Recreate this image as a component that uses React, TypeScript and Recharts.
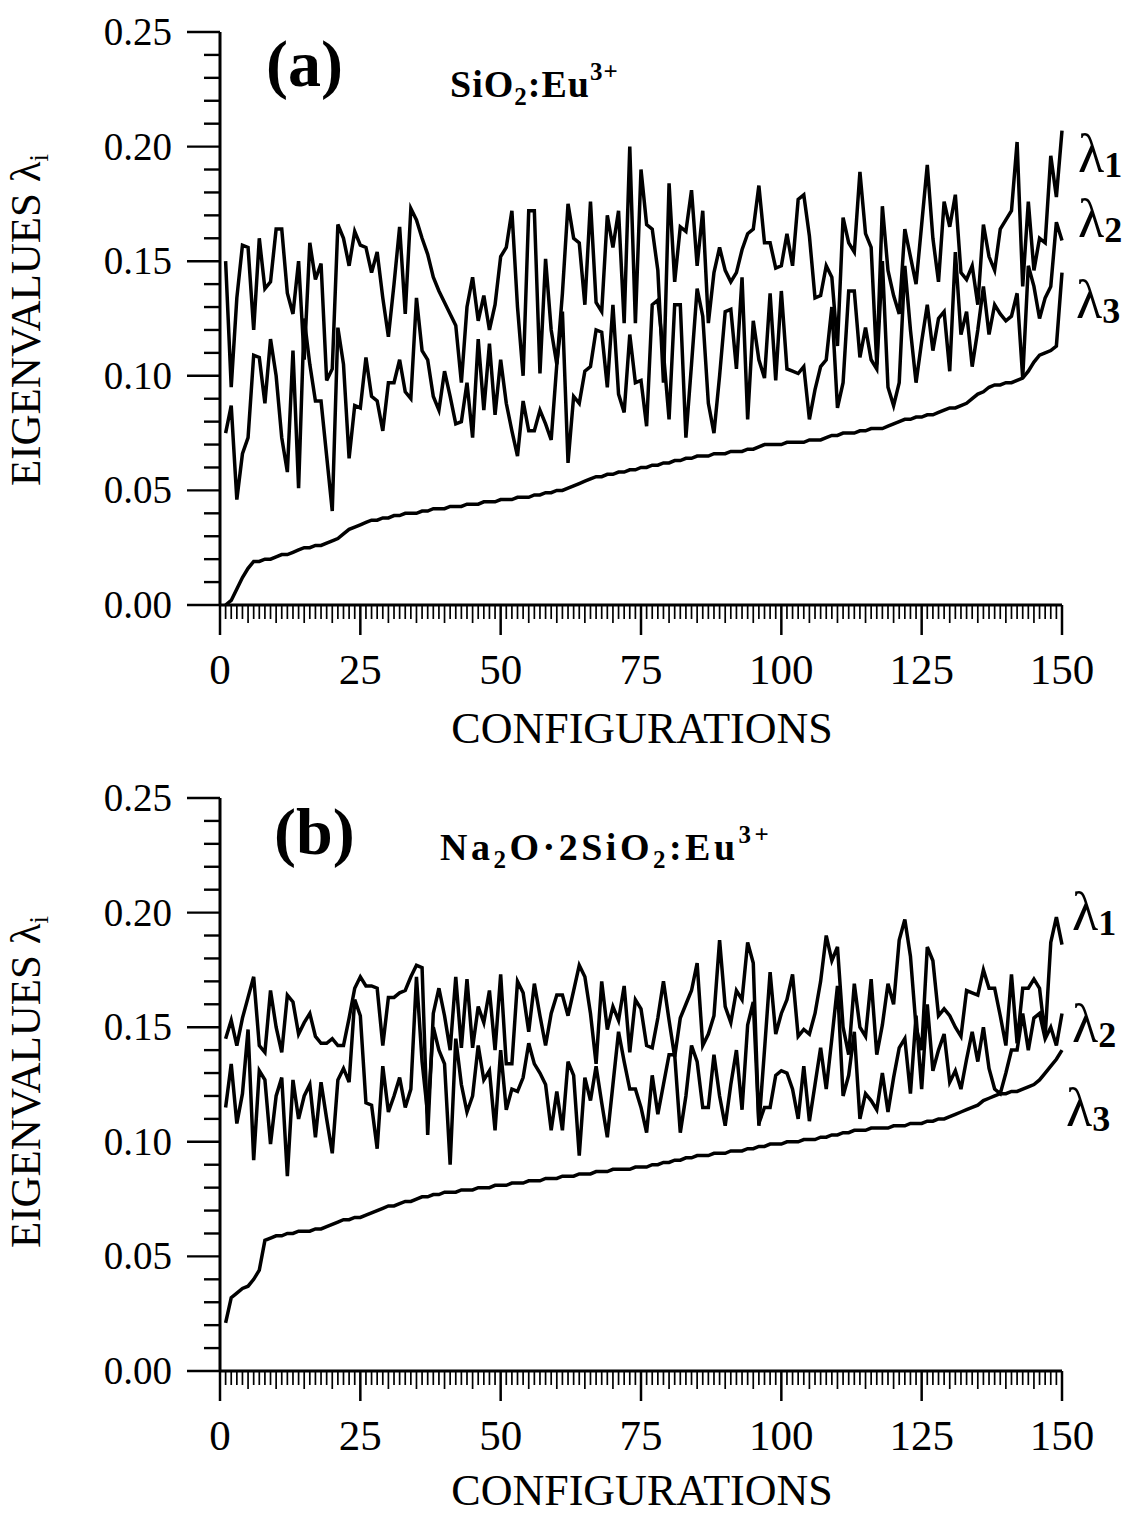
import { LineChart, Line, XAxis, YAxis } from 'recharts';

// configuration index, 1..150
const CONFIGS = Array.from({ length: 150 }, (_, i) => i + 1);

// (a) SiO2:Eu3+
const A_L1 = [
  0.150, 0.095, 0.134, 0.157, 0.156, 0.120, 0.160, 0.138, 0.141, 0.164,
  0.164, 0.136, 0.127, 0.150, 0.107, 0.158, 0.142, 0.149, 0.098, 0.103,
  0.166, 0.160, 0.148, 0.163, 0.157, 0.156, 0.145, 0.154, 0.134, 0.117,
  0.140, 0.165, 0.127, 0.173, 0.168, 0.160, 0.153, 0.143, 0.137, 0.132,
  0.127, 0.122, 0.097, 0.130, 0.143, 0.124, 0.135, 0.120, 0.131, 0.152,
  0.156, 0.172, 0.130, 0.100, 0.172, 0.172, 0.101, 0.151, 0.120, 0.105,
  0.136, 0.175, 0.160, 0.158, 0.131, 0.176, 0.132, 0.128, 0.170, 0.156,
  0.172, 0.123, 0.200, 0.123, 0.190, 0.166, 0.164, 0.146, 0.097, 0.184,
  0.141, 0.165, 0.163, 0.181, 0.148, 0.172, 0.123, 0.145, 0.156, 0.146,
  0.141, 0.145, 0.155, 0.162, 0.164, 0.183, 0.158, 0.158, 0.147, 0.148,
  0.162, 0.148, 0.177, 0.179, 0.161, 0.134, 0.135, 0.148, 0.143, 0.113,
  0.169, 0.158, 0.154, 0.189, 0.162, 0.156, 0.105, 0.174, 0.146, 0.135,
  0.127, 0.164, 0.152, 0.140, 0.166, 0.192, 0.160, 0.141, 0.176, 0.165,
  0.179, 0.145, 0.142, 0.148, 0.131, 0.166, 0.152, 0.146, 0.164, 0.168,
  0.172, 0.202, 0.139, 0.176, 0.146, 0.160, 0.158, 0.196, 0.178, 0.207,
];
const A_L2 = [
  0.075, 0.087, 0.046, 0.066, 0.073, 0.109, 0.108, 0.088, 0.116, 0.100,
  0.073, 0.058, 0.111, 0.051, 0.125, 0.105, 0.089, 0.089, 0.065, 0.041,
  0.121, 0.105, 0.064, 0.087, 0.086, 0.108, 0.091, 0.089, 0.076, 0.097,
  0.097, 0.107, 0.093, 0.090, 0.134, 0.111, 0.107, 0.091, 0.085, 0.102,
  0.091, 0.079, 0.080, 0.097, 0.073, 0.116, 0.085, 0.114, 0.083, 0.107,
  0.088, 0.076, 0.065, 0.089, 0.076, 0.076, 0.085, 0.079, 0.072, 0.105,
  0.128, 0.062, 0.091, 0.088, 0.102, 0.104, 0.120, 0.119, 0.095, 0.131,
  0.092, 0.084, 0.118, 0.097, 0.098, 0.078, 0.131, 0.133, 0.110, 0.081,
  0.131, 0.131, 0.073, 0.105, 0.138, 0.126, 0.088, 0.075, 0.100, 0.128,
  0.129, 0.103, 0.143, 0.081, 0.124, 0.107, 0.099, 0.136, 0.098, 0.137,
  0.103, 0.102, 0.101, 0.104, 0.081, 0.094, 0.104, 0.107, 0.130, 0.086,
  0.097, 0.137, 0.137, 0.108, 0.121, 0.107, 0.103, 0.150, 0.095, 0.087,
  0.097, 0.148, 0.120, 0.097, 0.115, 0.131, 0.111, 0.125, 0.128, 0.102,
  0.154, 0.118, 0.128, 0.104, 0.120, 0.139, 0.118, 0.131, 0.127, 0.124,
  0.126, 0.136, 0.099, 0.148, 0.139, 0.125, 0.134, 0.139, 0.167, 0.159,
];
const A_L3 = [
  0.000, 0.002, 0.007, 0.012, 0.016, 0.019, 0.019, 0.020, 0.020, 0.021,
  0.022, 0.022, 0.023, 0.024, 0.025, 0.025, 0.026, 0.026, 0.027, 0.028,
  0.029, 0.031, 0.033, 0.034, 0.035, 0.036, 0.037, 0.037, 0.038, 0.038,
  0.039, 0.039, 0.040, 0.040, 0.040, 0.041, 0.041, 0.042, 0.042, 0.042,
  0.043, 0.043, 0.043, 0.044, 0.044, 0.044, 0.045, 0.045, 0.045, 0.046,
  0.046, 0.046, 0.047, 0.047, 0.047, 0.048, 0.048, 0.049, 0.049, 0.050,
  0.050, 0.051, 0.052, 0.053, 0.054, 0.055, 0.056, 0.056, 0.057, 0.057,
  0.058, 0.058, 0.059, 0.059, 0.060, 0.060, 0.061, 0.061, 0.062, 0.062,
  0.063, 0.063, 0.064, 0.064, 0.065, 0.065, 0.065, 0.066, 0.066, 0.066,
  0.067, 0.067, 0.067, 0.068, 0.068, 0.069, 0.070, 0.070, 0.070, 0.070,
  0.071, 0.071, 0.071, 0.071, 0.072, 0.072, 0.072, 0.073, 0.074, 0.074,
  0.075, 0.075, 0.075, 0.076, 0.076, 0.077, 0.077, 0.077, 0.078, 0.079,
  0.080, 0.081, 0.081, 0.082, 0.082, 0.083, 0.083, 0.084, 0.085, 0.086,
  0.086, 0.087, 0.088, 0.090, 0.092, 0.093, 0.095, 0.096, 0.096, 0.097,
  0.097, 0.098, 0.099, 0.102, 0.106, 0.109, 0.110, 0.111, 0.113, 0.145,
];

// (b) Na2O.2SiO2:Eu3+
const B_L1 = [
  0.145, 0.153, 0.142, 0.154, 0.163, 0.172, 0.142, 0.139, 0.166, 0.150,
  0.139, 0.164, 0.161, 0.147, 0.152, 0.156, 0.146, 0.143, 0.143, 0.145,
  0.142, 0.142, 0.154, 0.167, 0.172, 0.168, 0.168, 0.167, 0.142, 0.163,
  0.163, 0.165, 0.166, 0.172, 0.177, 0.176, 0.103, 0.156, 0.167, 0.155,
  0.140, 0.172, 0.141, 0.171, 0.141, 0.159, 0.152, 0.166, 0.140, 0.173,
  0.134, 0.134, 0.170, 0.165, 0.148, 0.169, 0.155, 0.142, 0.156, 0.164,
  0.164, 0.155, 0.166, 0.177, 0.172, 0.156, 0.134, 0.170, 0.149, 0.159,
  0.153, 0.168, 0.139, 0.162, 0.158, 0.142, 0.141, 0.154, 0.170, 0.153,
  0.137, 0.154, 0.160, 0.166, 0.178, 0.142, 0.147, 0.155, 0.188, 0.159,
  0.152, 0.166, 0.162, 0.187, 0.178, 0.107, 0.140, 0.174, 0.147, 0.156,
  0.162, 0.173, 0.146, 0.149, 0.147, 0.156, 0.170, 0.190, 0.179, 0.185,
  0.150, 0.138, 0.169, 0.150, 0.146, 0.171, 0.138, 0.151, 0.169, 0.160,
  0.188, 0.197, 0.181, 0.150, 0.140, 0.185, 0.179, 0.155, 0.158, 0.155,
  0.150, 0.146, 0.166, 0.165, 0.164, 0.175, 0.167, 0.167, 0.155, 0.142,
  0.173, 0.143, 0.167, 0.167, 0.171, 0.167, 0.146, 0.187, 0.198, 0.186,
];
const B_L2 = [
  0.115, 0.134, 0.108, 0.121, 0.149, 0.092, 0.131, 0.127, 0.099, 0.120,
  0.128, 0.085, 0.127, 0.110, 0.120, 0.125, 0.102, 0.126, 0.110, 0.095,
  0.127, 0.132, 0.126, 0.162, 0.155, 0.117, 0.116, 0.097, 0.133, 0.113,
  0.120, 0.128, 0.115, 0.123, 0.172, 0.135, 0.112, 0.150, 0.140, 0.134,
  0.090, 0.145, 0.125, 0.113, 0.120, 0.142, 0.127, 0.131, 0.105, 0.140,
  0.114, 0.123, 0.122, 0.128, 0.143, 0.134, 0.130, 0.125, 0.105, 0.122,
  0.105, 0.135, 0.129, 0.094, 0.128, 0.118, 0.133, 0.117, 0.102, 0.125,
  0.148, 0.135, 0.123, 0.123, 0.115, 0.104, 0.129, 0.112, 0.125, 0.138,
  0.138, 0.104, 0.120, 0.142, 0.135, 0.115, 0.115, 0.138, 0.120, 0.107,
  0.125, 0.140, 0.114, 0.151, 0.161, 0.108, 0.115, 0.115, 0.129, 0.131,
  0.130, 0.123, 0.110, 0.133, 0.109, 0.125, 0.141, 0.123, 0.145, 0.168,
  0.120, 0.129, 0.148, 0.110, 0.121, 0.118, 0.114, 0.130, 0.113, 0.128,
  0.141, 0.145, 0.121, 0.155, 0.123, 0.160, 0.131, 0.140, 0.147, 0.126,
  0.131, 0.123, 0.136, 0.148, 0.135, 0.150, 0.132, 0.123, 0.121, 0.130,
  0.140, 0.140, 0.156, 0.140, 0.154, 0.156, 0.145, 0.150, 0.142, 0.156,
];
const B_L3 = [
  0.021, 0.032, 0.034, 0.036, 0.037, 0.040, 0.044, 0.057, 0.058, 0.059,
  0.059, 0.060, 0.060, 0.061, 0.061, 0.061, 0.062, 0.062, 0.063, 0.064,
  0.065, 0.066, 0.066, 0.067, 0.067, 0.068, 0.069, 0.070, 0.071, 0.072,
  0.072, 0.073, 0.074, 0.074, 0.075, 0.076, 0.076, 0.077, 0.077, 0.078,
  0.078, 0.078, 0.079, 0.079, 0.079, 0.080, 0.080, 0.080, 0.081, 0.081,
  0.081, 0.082, 0.082, 0.082, 0.083, 0.083, 0.083, 0.084, 0.084, 0.084,
  0.085, 0.085, 0.085, 0.086, 0.086, 0.086, 0.087, 0.087, 0.087, 0.088,
  0.088, 0.088, 0.088, 0.089, 0.089, 0.089, 0.090, 0.090, 0.091, 0.091,
  0.092, 0.092, 0.093, 0.093, 0.094, 0.094, 0.094, 0.095, 0.095, 0.095,
  0.096, 0.096, 0.096, 0.097, 0.097, 0.098, 0.098, 0.099, 0.099, 0.099,
  0.100, 0.100, 0.100, 0.101, 0.101, 0.101, 0.102, 0.102, 0.103, 0.103,
  0.104, 0.104, 0.105, 0.105, 0.105, 0.106, 0.106, 0.106, 0.106, 0.107,
  0.107, 0.107, 0.108, 0.108, 0.108, 0.109, 0.109, 0.110, 0.110, 0.111,
  0.112, 0.113, 0.114, 0.115, 0.116, 0.118, 0.119, 0.120, 0.121, 0.121,
  0.122, 0.122, 0.123, 0.124, 0.125, 0.127, 0.130, 0.133, 0.136, 0.140,
];

const X_TICKS = Array.from({ length: 151 }, (_, i) => i);
const Y_TICKS = Array.from({ length: 26 }, (_, i) => i / 100);

const FONT = '"Liberation Serif", "Times New Roman", serif';

const rows = (l1: number[], l2: number[], l3: number[]) =>
  CONFIGS.map((c, i) => ({ c, l1: l1[i], l2: l2[i], l3: l3[i] }));

const dataA = rows(A_L1, A_L2, A_L3);
const dataB = rows(B_L1, B_L2, B_L3);

function XTick(props: any) {
  const { x, y, payload } = props;
  const v = payload.value;
  const major = v % 25 === 0;
  const len = major ? 30 : v % 5 === 0 ? 18 : 14;
  return (
    <g>
      <line x1={x} x2={x} y1={y} y2={y + len} stroke="#000" strokeWidth={major ? 2.5 : 1.7} />
      {major && (
        <text x={x} y={y + 79} textAnchor="middle" fontFamily={FONT} fontSize={43} fill="#000">
          {v}
        </text>
      )}
    </g>
  );
}

function YTick(props: any) {
  const { x, y, payload } = props;
  const k = Math.round(payload.value * 100);
  const major = k % 5 === 0;
  return (
    <g>
      <line x1={x - (major ? 33 : 16)} x2={x} y1={y} y2={y} stroke="#000" strokeWidth={2.4} />
      {major && (
        <text x={x - 48} y={y + 13} textAnchor="end" fontFamily={FONT} fontSize={39} fill="#000">
          {(k / 100).toFixed(2)}
        </text>
      )}
    </g>
  );
}

function Panel({ top, data }: { top: number; data: any[] }) {
  return (
    <div style={{ position: 'absolute', left: 0, top }}>
      <LineChart width={1147} height={745} data={data} margin={{ top: 32, right: 85, bottom: 0, left: 0 }}>
        <XAxis
          dataKey="c"
          type="number"
          domain={[0, 150]}
          ticks={X_TICKS}
          interval={0}
          height={140}
          tickSize={0}
          tickMargin={0}
          tickLine={false}
          axisLine={{ stroke: '#000', strokeWidth: 3 }}
          tick={<XTick />}
        />
        <YAxis
          type="number"
          domain={[0, 0.25]}
          ticks={Y_TICKS}
          interval={0}
          width={220}
          tickSize={0}
          tickMargin={0}
          tickLine={false}
          axisLine={{ stroke: '#000', strokeWidth: 3 }}
          tick={<YTick />}
        />
        <Line type="linear" dataKey="l1" stroke="#000" strokeWidth={3.5} dot={false} isAnimationActive={false} />
        <Line type="linear" dataKey="l2" stroke="#000" strokeWidth={3.5} dot={false} isAnimationActive={false} />
        <Line type="linear" dataKey="l3" stroke="#000" strokeWidth={3.5} dot={false} isAnimationActive={false} />
      </LineChart>
    </div>
  );
}

function Lambda({ x, y, n }: { x: number; y: number; n: number }) {
  return (
    <text x={x} y={y} fontFamily={FONT} fontSize={54} fill="#000">
      λ
      <tspan dy={5} fontSize={36} fontWeight="bold">{n}</tspan>
    </text>
  );
}

function Labels() {
  const yLabel = (cy: number) => (
    <text transform={`translate(40, ${cy}) rotate(-90)`} textAnchor="middle" fontFamily={FONT} fontSize={43} fill="#000">
      EIGENVALUES λ<tspan dy={8} fontSize={27}>i</tspan>
    </text>
  );
  return (
    <svg width={1147} height={1515} style={{ position: 'absolute', left: 0, top: 0, pointerEvents: 'none' }}>
      {yLabel(320)}
      {yLabel(1082)}
      <text x={642} y={743} textAnchor="middle" fontFamily={FONT} fontSize={44} fill="#000">CONFIGURATIONS</text>
      <text x={642} y={1505} textAnchor="middle" fontFamily={FONT} fontSize={44} fill="#000">CONFIGURATIONS</text>

      <text x={266} y={86} fontFamily={FONT} fontSize={66} fontWeight="bold" fill="#000">(a)</text>
      <text x={450} y={97} fontFamily={FONT} fontSize={38} fontWeight="bold" fill="#000" letterSpacing={1}>
        SiO<tspan dy={8} fontSize={25}>2</tspan>
        <tspan dy={-8}>:Eu</tspan>
        <tspan dy={-17} fontSize={25}>3+</tspan>
      </text>

      <text x={274} y={854} fontFamily={FONT} fontSize={66} fontWeight="bold" fill="#000">(b)</text>
      <text x={440} y={860} fontFamily={FONT} fontSize={38} fontWeight="bold" fill="#000" letterSpacing={3.5}>
        Na<tspan dy={8} fontSize={25}>2</tspan>
        <tspan dy={-8}>O·2SiO</tspan>
        <tspan dy={8} fontSize={25}>2</tspan>
        <tspan dy={-8}>:Eu</tspan>
        <tspan dy={-17} fontSize={25}>3+</tspan>
      </text>

      <Lambda x={1078} y={172} n={1} />
      <Lambda x={1078} y={237} n={2} />
      <Lambda x={1076} y={318} n={3} />
      <Lambda x={1072} y={930} n={1} />
      <Lambda x={1072} y={1042} n={2} />
      <Lambda x={1066} y={1126} n={3} />
    </svg>
  );
}

export default function App() {
  return (
    <div style={{ position: 'absolute', left: 0, top: 0, width: 1147, height: 1515, background: '#fff', overflow: 'hidden' }}>
      <Panel top={0} data={dataA} />
      <Panel top={766} data={dataB} />
      <Labels />
    </div>
  );
}
